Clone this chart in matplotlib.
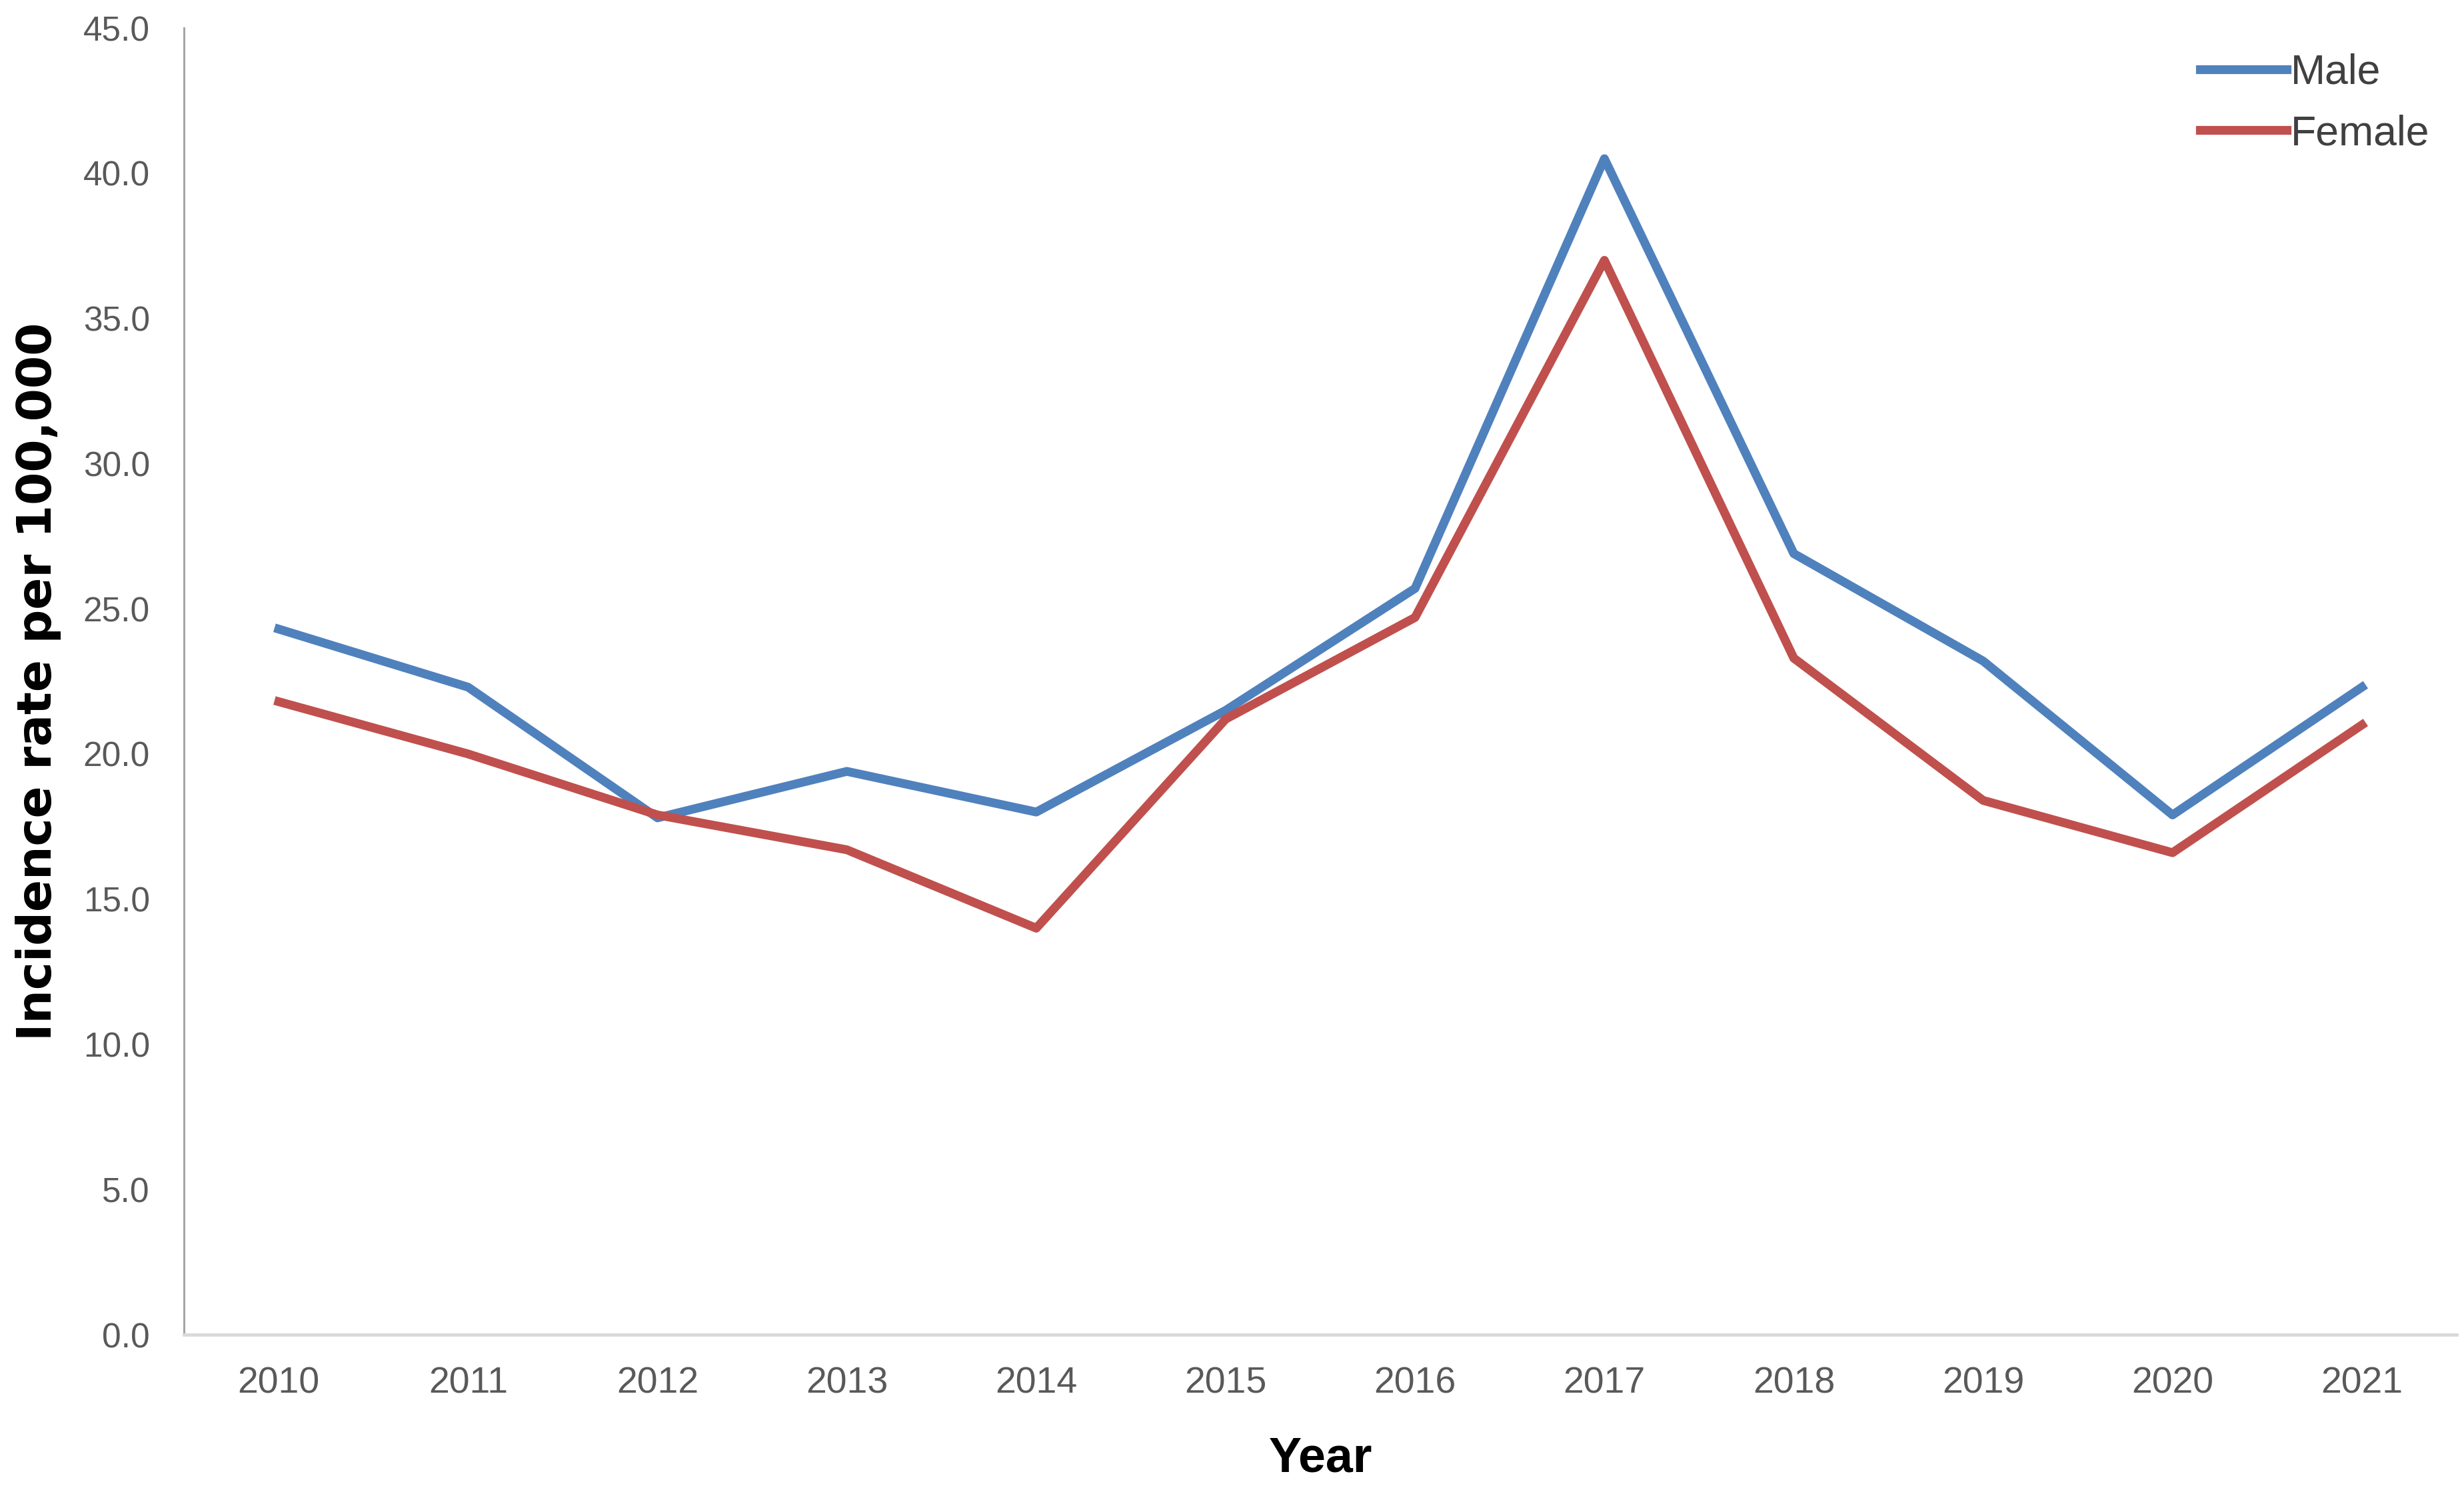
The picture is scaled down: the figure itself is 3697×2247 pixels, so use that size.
import numpy as np
import matplotlib.pyplot as plt

years = ['2010', '2011', '2012', '2013', '2014', '2015',
         '2016', '2017', '2018', '2019', '2020', '2021']
male = [24.3, 22.3, 17.8, 19.4, 18.0, 21.5, 25.7, 40.5, 26.9, 23.2, 17.9, 22.3]
female = [21.8, 20.0, 17.9, 16.7, 14.0, 21.2, 24.7, 37.0, 23.3, 18.4, 16.6, 21.0]
yticks = np.arange(0, 50, 5)

plt.rcParams['font.family'] = ['Liberation Sans', 'DejaVu Sans']

fig = plt.figure(figsize=(36.97, 22.47), dpi=100)
ax = fig.add_axes([0.0747, 0.109, 0.9223, 0.8723])

x = np.arange(len(years))
ax.plot(x, male, color='#4F81BD', lw=9.5, label='Male')
ax.plot(x, female, color='#C0504D', lw=9.5, label='Female')

ax.set_xlim(-0.5, len(years) - 0.5)
ax.set_ylim(0, 45)
ax.set_xticks(x)
ax.set_xticklabels(years)
ax.set_yticks(yticks)
ax.set_yticklabels([f"{v:.1f}" for v in yticks])
ax.tick_params(axis='x', length=0, pad=34, labelsize=40, labelcolor='#595959')
ax.tick_params(axis='y', length=0, pad=37, labelsize=37, labelcolor='#595959')

for s in ['top', 'right']:
    ax.spines[s].set_visible(False)
ax.spines['left'].set_color('#a6a6a6')
ax.spines['left'].set_linewidth(2.2)
ax.spines['bottom'].set_color('#d9d9d9')
ax.spines['bottom'].set_linewidth(3.5)

ax.set_xlabel('Year', fontsize=53, fontweight='bold', color='black')
ax.xaxis.set_label_coords(0.5, -0.077)
ax.set_ylabel('Incidence rate per 100,000', fontsize=51, fontweight='bold',
              color='black', family='DejaVu Sans')
ax.yaxis.set_label_coords(-0.054, 0.5)

leg = ax.legend(loc='upper left', bbox_to_anchor=(0.893, 0.9645), bbox_transform=fig.transFigure,
                frameon=False, fontsize=45, handlelength=2.07, handletextpad=0.1,
                borderpad=0, borderaxespad=0, labelspacing=0.52)
for t in leg.get_texts():
    t.set_color('#404040')

fig.savefig('out.png', dpi=100)
